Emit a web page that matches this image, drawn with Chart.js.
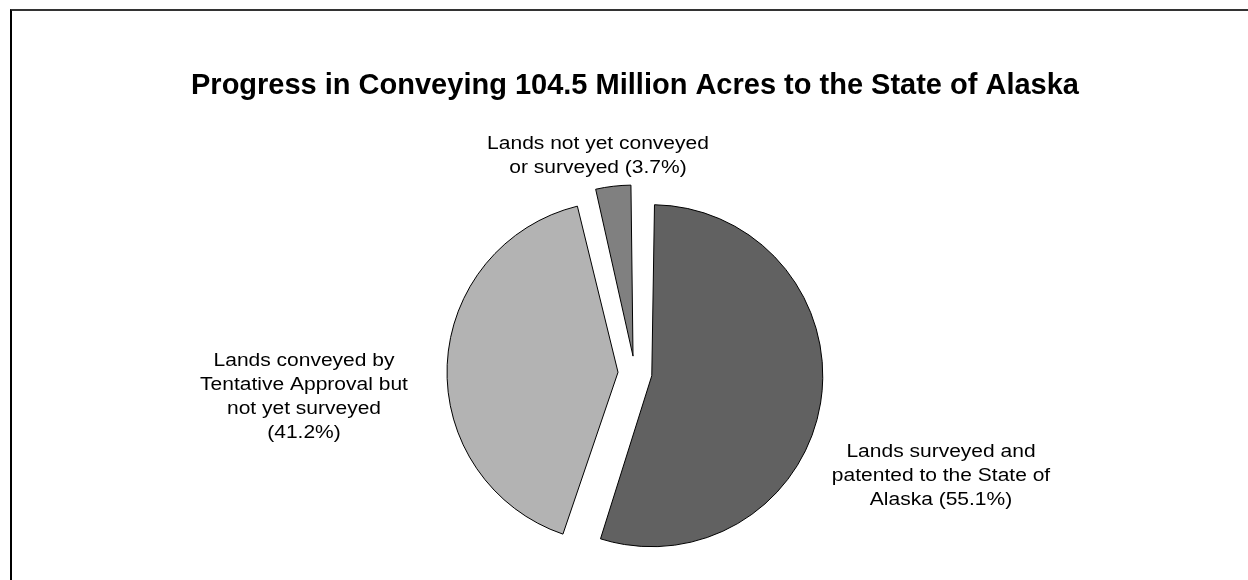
<!DOCTYPE html>
<html><head><meta charset="utf-8">
<script src="https://cdn.jsdelivr.net/npm/chart.js@4.4.1/dist/chart.umd.min.js"></script>
<style>
html,body{margin:0;padding:0;background:#fff;overflow:hidden;}
#wrap{position:relative;width:1248px;height:580px;overflow:hidden;}
#frame{position:absolute;left:10px;top:9px;width:1400px;height:800px;border-left:2px solid #000;border-top:2px solid #333;pointer-events:none;}
canvas{position:absolute;left:0;top:0;}
</style></head><body>
<div id="wrap"><canvas id="c" width="1248" height="580"></canvas><div id="frame"></div></div>
<script>
// ---- data ----
const titleText = 'Progress in Conveying 104.5 Million Acres to the State of Alaska';
const categories = [
  'Lands surveyed and patented to the State of Alaska',
  'Lands conveyed by Tentative Approval but not yet surveyed',
  'Lands not yet conveyed or surveyed'
];
const percentValues = [55.1, 41.2, 3.7];
const labelLines = [
  ['Lands surveyed and', 'patented to the State of', 'Alaska'],
  ['Lands conveyed by', 'Tentative Approval but', 'not yet surveyed', ''],
  ['Lands not yet conveyed', 'or surveyed']
];
const sliceColors = ['#616161', '#b3b3b3', '#808080'];

// ---- style / layout ----
const sliceOffset = 68;      // Chart.js translates arcs by offset/4
const pieRadius = 171;
const labelFont = '17.5px "Liberation Sans", Arial, sans-serif';
const labelStretch = 1.2;
const labelLineHeight = 24;
const labelAnchors = [ {dx: 306, dy: 78.7}, {dx: -331, dy: -11.7}, {dx: -37, dy: -229.2} ];

function fullLines(i) {
  const lines = labelLines[i].slice();
  const pct = '(' + percentValues[i].toFixed(1) + '%)';
  const last = lines.length - 1;
  lines[last] = lines[last] ? lines[last] + ' ' + pct : pct;
  return lines;
}

// keep every exploded slice at the same visible radius
const arcFix = {
  id: 'arcFix',
  afterDatasetUpdate(chart, args) {
    args.meta.data.forEach(el => {
      const off = sliceOffset / 4;
      const fix = 1 - Math.sin(Math.min(Math.PI, el.circumference));
      el.outerRadius = el.outerRadius - off * fix;
    });
  }
};

const sliceLabels = {
  id: 'sliceLabels',
  afterDatasetsDraw(chart) {
    const meta = chart.getDatasetMeta(0);
    const ctx = chart.ctx;
    ctx.save();
    ctx.font = labelFont;
    ctx.fillStyle = '#000';
    ctx.textAlign = 'center';
    ctx.textBaseline = 'middle';
    meta.data.forEach((el, i) => {
      const cx = el.x, cy = el.y;
      const a = labelAnchors[i];
      fullLines(i).forEach((t, k) => {
        ctx.save();
        ctx.translate(cx + a.dx, cy + a.dy + k * labelLineHeight);
        ctx.scale(labelStretch, 1);
        ctx.fillText(t, 0, 0);
        ctx.restore();
      });
    });
    ctx.restore();
  }
};

new Chart(document.getElementById('c'), {
  type: 'pie',
  data: {
    labels: categories,
    datasets: [{
      data: percentValues,
      backgroundColor: sliceColors,
      borderColor: '#000',
      borderWidth: 1,
      offset: sliceOffset,
      hoverOffset: 0,
      radius: pieRadius,
      clip: false
    }]
  },
  options: {
    responsive: false,
    animation: false,
    devicePixelRatio: 1,
    events: [],
    layout: { padding: { left: 22, right: 0, top: 0, bottom: 0 } },
    plugins: {
      legend: { display: false },
      tooltip: { enabled: false },
      title: {
        display: true,
        text: titleText,
        color: '#000',
        font: { family: '"Liberation Sans", Arial, sans-serif', size: 29, weight: 'bold', lineHeight: 1.2 },
        padding: { top: 68.1, bottom: 63.1 }
      }
    }
  },
  plugins: [arcFix, sliceLabels]
});
</script>
</body></html>
